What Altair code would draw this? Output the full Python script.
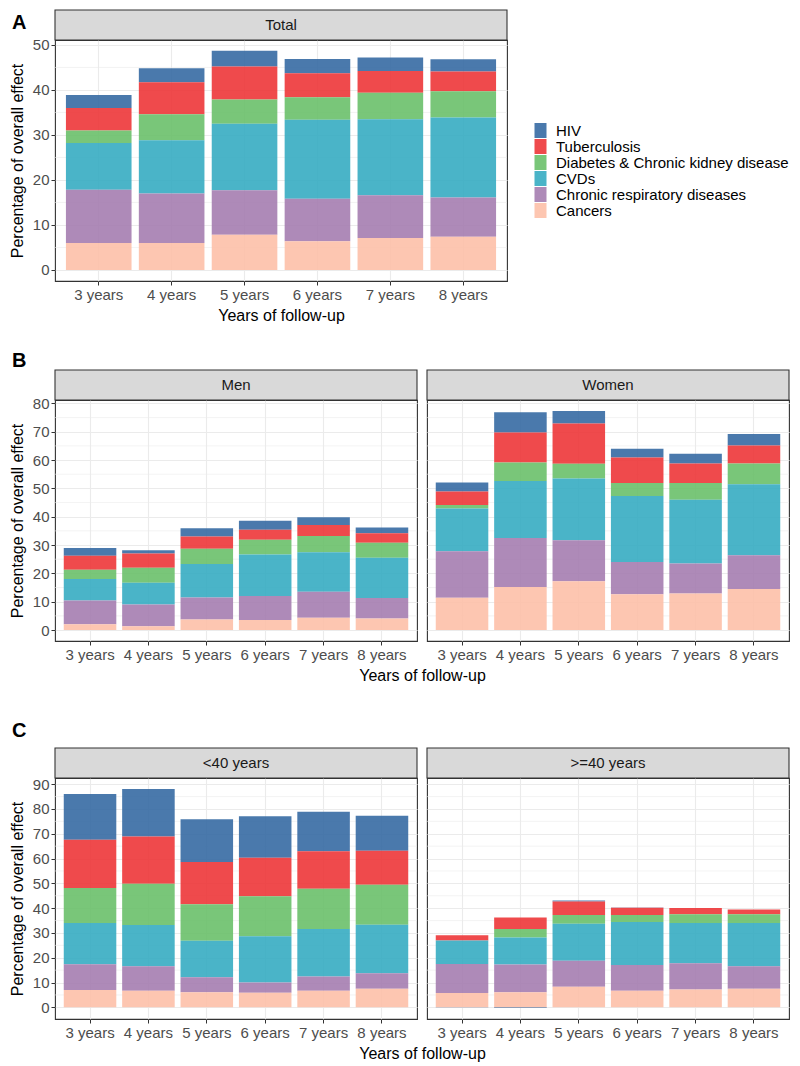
import altair as alt
import pandas as pd

years = ["3 years", "4 years", "5 years", "6 years", "7 years", "8 years"]
causes = ["HIV", "Tuberculosis", "Diabetes & Chronic kidney disease", "CVDs",
          "Chronic respiratory diseases", "Cancers"]
colors = ["#366AA3", "#ED3638", "#6AC06A", "#36ACC2", "#A57DB0", "#FDC0A8"]

# Panel A - Total
total_hiv = [2.9, 3.1, 3.5, 3.2, 3.0, 2.7]
total_tb = [5.0, 7.1, 7.3, 5.3, 4.8, 4.4]
total_diab = [2.8, 5.8, 5.4, 5.0, 5.9, 5.8]
total_cvd = [10.4, 11.8, 14.8, 17.6, 16.9, 17.8]
total_resp = [11.8, 11.0, 9.9, 9.4, 9.5, 8.7]
total_cancer = [6.0, 6.0, 7.8, 6.4, 7.1, 7.4]

# Panel B - Men
men_hiv = [2.8, 1.2, 2.9, 3.2, 2.7, 2.0]
men_tb = [4.9, 5.0, 4.3, 3.5, 3.9, 3.4]
men_diab = [3.3, 5.3, 5.4, 5.2, 5.7, 5.3]
men_cvd = [7.6, 7.7, 11.8, 14.7, 14.0, 14.2]
men_resp = [8.4, 7.7, 7.8, 8.5, 9.2, 7.2]
men_cancer = [2.0, 1.3, 3.7, 3.5, 4.3, 4.1]

# Panel B - Women
women_hiv = [3.2, 7.2, 4.4, 3.1, 3.4, 4.1]
women_tb = [4.8, 10.6, 14.2, 9.0, 6.9, 6.3]
women_diab = [1.2, 6.5, 5.2, 4.6, 5.9, 7.3]
women_cvd = [15.1, 20.1, 21.8, 23.3, 22.5, 25.1]
women_resp = [16.4, 17.3, 14.5, 11.4, 10.6, 11.9]
women_cancer = [11.4, 15.2, 17.2, 12.6, 12.9, 14.5]

# Panel C - <40 years
young_hiv = [18.4, 19.2, 17.3, 16.8, 15.9, 14.1]
young_tb = [19.5, 19.1, 17.0, 15.5, 15.2, 13.8]
young_diab = [14.1, 16.6, 14.7, 16.1, 16.2, 16.1]
young_cvd = [16.6, 16.6, 14.8, 18.7, 19.2, 19.5]
young_resp = [10.4, 9.9, 6.0, 4.1, 5.7, 6.3]
young_cancer = [7.0, 6.7, 6.1, 5.9, 6.7, 7.5]

# Panel C - >=40 years
old_hiv = [-0.1, -0.3, 0.4, 0.1, 0.0, 0.0]
old_tb = [2.1, 4.6, 5.5, 3.0, 2.6, 2.0]
old_diab = [0.0, 3.4, 3.5, 2.8, 3.5, 3.5]
old_cvd = [9.5, 10.9, 14.9, 17.3, 16.2, 17.4]
old_resp = [11.7, 11.2, 10.5, 10.4, 10.6, 9.1]
old_cancer = [5.8, 6.1, 8.3, 6.7, 7.2, 7.5]

FONT = "Liberation Sans"


def build_df(series):
    rows = []
    for ci, (cause, vals) in enumerate(zip(causes, series)):
        for y, v in zip(years, vals):
            rows.append({"year": y, "cause": cause, "value": v, "ord": len(causes) - 1 - ci})
    return pd.DataFrame(rows)


def make_panel(series, label, w, h, ydom, major, minor, y_labels=True,
               x_title=None, x_title_x=None, letter=None, letter_y=-17, legend=False):
    df = build_df(series)
    yscale = alt.Scale(domain=ydom, nice=False, zero=False)
    xscale = alt.Scale(domain=years, paddingInner=0.1, paddingOuter=0.15)

    if y_labels:
        yaxis = alt.Axis(values=major, title="Percentage of overall effect", grid=True,
                         gridColor="#EBEBEB", gridWidth=1.1, domain=False, ticks=True,
                         tickSize=4, tickColor="#333333", labelFontSize=15,
                         labelColor="#4D4D4D", labelPadding=2, titleFontSize=16,
                         titleFontWeight="normal", titleColor="#000000", titlePadding=7)
    else:
        yaxis = alt.Axis(values=major, title=None, grid=True, gridColor="#EBEBEB",
                         gridWidth=1.1, domain=False, ticks=False, labels=False)

    grid_minor = alt.Chart(pd.DataFrame({"v": minor})).mark_rule(
        color="#EBEBEB", strokeWidth=0.6
    ).encode(y=alt.Y("v:Q", scale=yscale, axis=yaxis), x=alt.value(0), x2=alt.value(w))

    xkw = dict(labelAngle=0, grid=True, gridColor="#EBEBEB", gridWidth=1.1,
               bandPosition=0.5, domain=False, tickSize=4, tickColor="#333333",
               labelFontSize=15, labelColor="#4D4D4D", labelPadding=2,
               titleFontSize=16, titleFontWeight="normal", titleColor="#000000",
               titlePadding=5)
    if x_title is not None:
        xkw["title"] = x_title
    else:
        xkw["title"] = None
    if x_title_x is not None:
        xkw["titleX"] = x_title_x
    xaxis = alt.Axis(**xkw)

    if legend:
        leg = alt.Legend(title=None, orient="none", legendX=478, legendY=83, padding=0,
                         symbolType="M-0.8,-1H0.8V1H-0.8Z", symbolSize=225,
                         symbolStrokeWidth=0, symbolOpacity=0.9, rowPadding=0,
                         labelFontSize=15, labelColor="#000000", labelOffset=8,
                         labelLimit=400)
        color = alt.Color("cause:N", scale=alt.Scale(domain=causes, range=colors), legend=leg)
    else:
        color = alt.Color("cause:N", scale=alt.Scale(domain=causes, range=colors), legend=None)

    bars = alt.Chart(df).mark_bar(opacity=0.9).encode(
        x=alt.X("year:N", scale=xscale, axis=xaxis, sort=years),
        y=alt.Y("value:Q", stack="zero", scale=yscale, axis=yaxis),
        color=color,
        order=alt.Order("ord:Q", sort="ascending"),
    )

    lab = pd.DataFrame({"label": [label]})
    strip = alt.Chart(lab).mark_rect(fill="#D9D9D9", stroke="#333333", strokeWidth=1.1).encode(
        x=alt.value(0), x2=alt.value(w), y=alt.value(-30), y2=alt.value(0)
    )
    strip_text = alt.Chart(lab).mark_text(fontSize=15, color="#1A1A1A", baseline="middle").encode(
        x=alt.value(w / 2), y=alt.value(-15), text="label:N"
    )
    layers = [grid_minor, bars, strip, strip_text]
    if letter is not None:
        let = alt.Chart(pd.DataFrame({"t": [letter]})).mark_text(
            fontSize=20, fontWeight="bold", align="left", baseline="middle", color="#000000"
        ).encode(x=alt.value(-43), y=alt.value(letter_y), text="t:N")
        layers.append(let)
    return alt.layer(*layers).properties(width=w, height=h)


WA = 452
WB = 362
H = 241

total_series = [total_hiv, total_tb, total_diab, total_cvd, total_resp, total_cancer]
men_series = [men_hiv, men_tb, men_diab, men_cvd, men_resp, men_cancer]
women_series = [women_hiv, women_tb, women_diab, women_cvd, women_resp, women_cancer]
young_series = [young_hiv, young_tb, young_diab, young_cvd, young_resp, young_cancer]
old_series = [old_hiv, old_tb, old_diab, old_cvd, old_resp, old_cancer]

ticks_a = [0, 10, 20, 30, 40, 50]
minor_a = [5, 15, 25, 35, 45]
ticks_b = [0, 10, 20, 30, 40, 50, 60, 70, 80]
minor_b = [5, 15, 25, 35, 45, 55, 65, 75]
ticks_c = [0, 10, 20, 30, 40, 50, 60, 70, 80, 90]
minor_c = [5, 15, 25, 35, 45, 55, 65, 75, 85]

panel_a = make_panel(total_series, "Total", WA, H, [-2.45, 51.1], ticks_a, minor_a,
                     x_title="Years of follow-up", letter="A", letter_y=-17, legend=True)

men = make_panel(men_series, "Men", WB, H, [-3.87, 81.2], ticks_b, minor_b,
                 x_title="Years of follow-up", x_title_x=WB + 5, letter="B", letter_y=-39)
women = make_panel(women_series, "Women", WB, H, [-3.87, 81.2], ticks_b, minor_b,
                   y_labels=False)
panel_b = alt.hconcat(men, women, spacing=10, bounds="flush")

young = make_panel(young_series, "<40 years", WB, H, [-4.7, 92.5], ticks_c, minor_c,
                   x_title="Years of follow-up", x_title_x=WB + 5, letter="C", letter_y=-47)
old = make_panel(old_series, ">=40 years", WB, H, [-4.7, 92.5], ticks_c, minor_c,
                 y_labels=False)
panel_c = alt.hconcat(young, old, spacing=10, bounds="flush")

chart = alt.vconcat(
    alt.vconcat(panel_a, panel_b, spacing=26),
    panel_c,
    spacing=36,
).resolve_legend(color="independent").configure(
    font=FONT, background="white", padding=0
).configure_view(stroke="#333333", strokeWidth=1.1)

chart.save("out.html", embed_options={"renderer": "svg", "actions": False})
